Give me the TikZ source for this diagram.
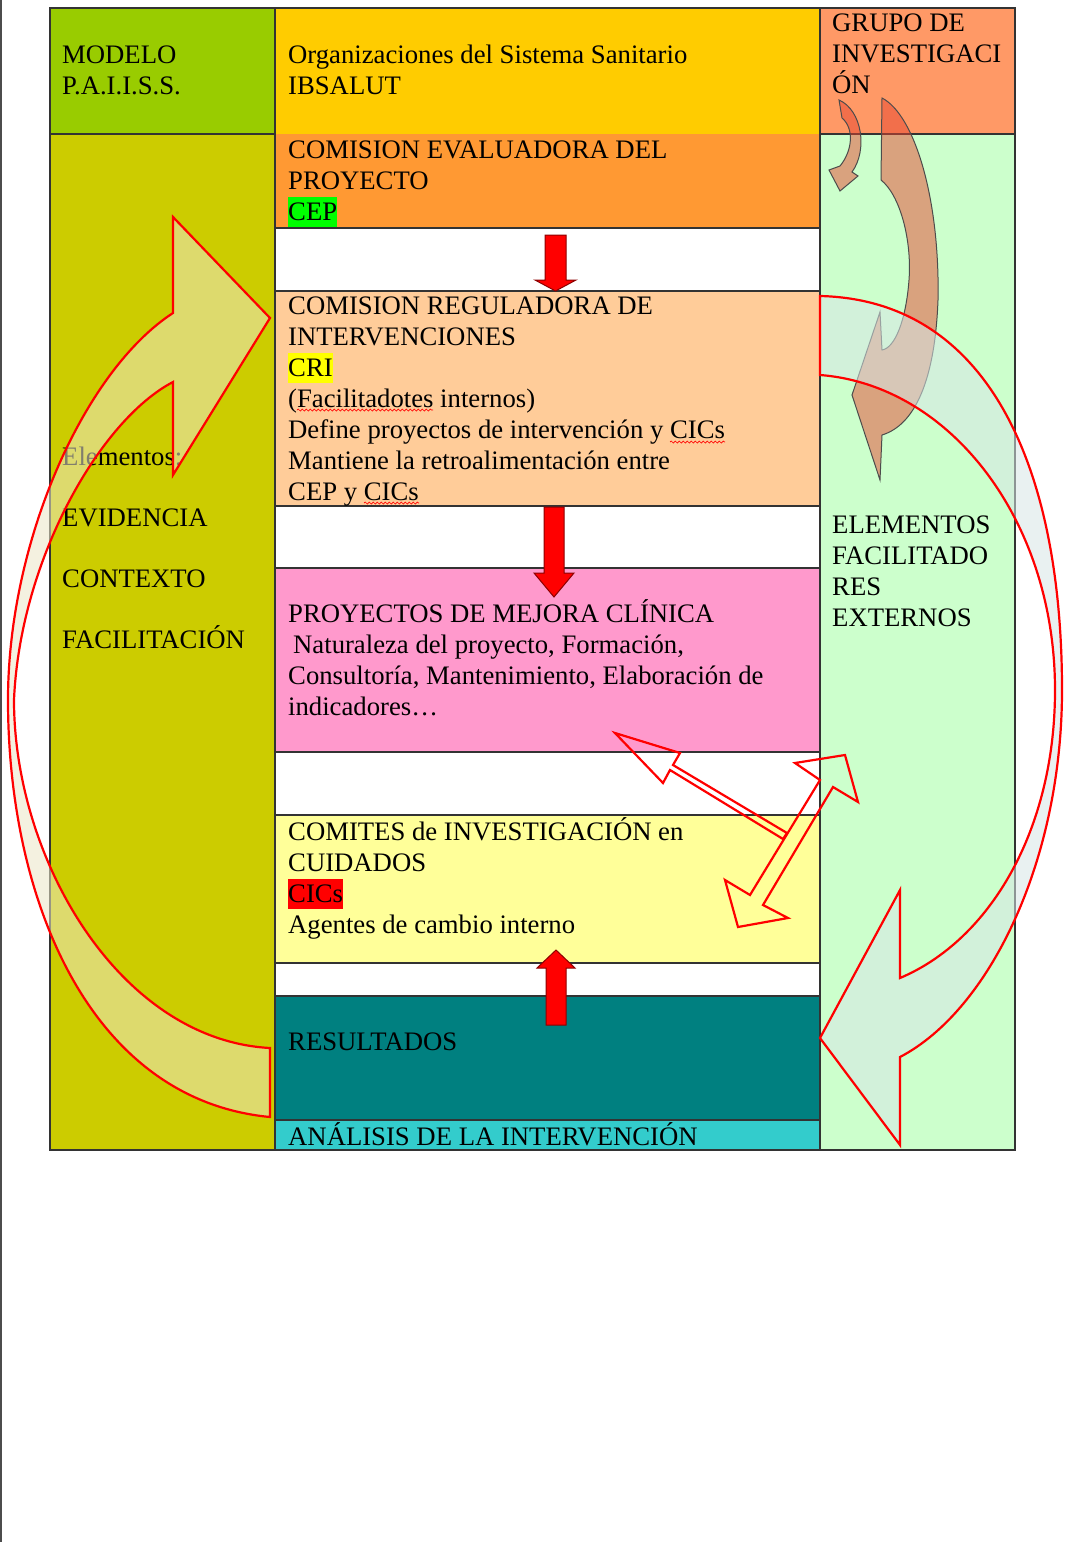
\documentclass[tikz,border=0pt]{standalone}
\usepackage{fontspec}
\setmainfont{Liberation Serif}
\usetikzlibrary{decorations.pathmorphing}

\definecolor{modelgreen}{HTML}{99CC00}
\definecolor{olivecol}{HTML}{CCCC00}
\definecolor{goldcol}{HTML}{FFCC00}
\definecolor{grupocol}{HTML}{FF9966}
\definecolor{cepcol}{HTML}{FF9933}
\definecolor{cricol}{HTML}{FFCC99}
\definecolor{pinkcol}{HTML}{FF99CC}
\definecolor{cicscol}{HTML}{FFFF99}
\definecolor{tealcol}{HTML}{008080}
\definecolor{turqcol}{HTML}{33CCCC}
\definecolor{extcol}{HTML}{CCFFCC}
\definecolor{hlgreen}{HTML}{00FF00}
\definecolor{hlyellow}{HTML}{FFFF00}
\definecolor{hlred}{HTML}{FF0000}
\definecolor{arcleft}{RGB}{235,230,200}
\definecolor{arcright}{RGB}{215,230,230}
\definecolor{salmonfill}{RGB}{230,70,50}

\newcommand{\cellfont}{\fontsize{26.7pt}{31pt}\selectfont}
\newcommand{\tstrut}{\rule{0pt}{25pt}}
\newcommand{\hilite}[2]{{\setlength{\fboxsep}{0pt}\colorbox{#1}{\rule[-7pt]{0pt}{30pt}#2}}}

\tikzset{
	cell/.style={draw=black!80, line width=1.4pt},
	txt/.style={anchor=north west, inner sep=0pt, align=left, font=\cellfont},
	solidarrow/.style={fill=red, draw=red!55!black, line width=1pt},
	openarrow/.style={draw=red, line width=2.2pt, line join=miter},
	bigarc/.style={draw=red, line width=2.2pt, fill opacity=0.55},
	salmonarrow/.style={draw=black!70, line width=1pt, fill=salmonfill, fill opacity=0.5},
	squiggle/.style={red, line width=0.7pt, decorate, decoration={snake, amplitude=1pt, segment length=4pt}}
}

\begin{document}
\begin{tikzpicture}[x=1pt, y=-1pt]
		\useasboundingbox (0,0) rectangle (1070,1542);
		\fill[white] (0,0) rectangle (1070,1542);
		\draw[black!70, line width=2pt] (1,0) -- (1,1542);
		% columns
		\fill[modelgreen] (50,8) rectangle (275,134);
		\fill[olivecol] (50,134) rectangle (275,1150);
		\fill[grupocol] (820,8) rectangle (1015,134);
		\fill[extcol] (820,134) rectangle (1015,1150);
		\foreach \ya/\yb/\col in {8/134/goldcol, 134/228/cepcol, 228/291/white, 291/506/cricol, 506/568/white, 568/752/pinkcol, 752/815/white, 815/963/cicscol, 963/996/white, 996/1120/tealcol, 1120/1150/turqcol} {
			\fill[\col] (275,\ya) rectangle (820,\yb);
		}
		\foreach \y in {228, 291, 506, 568, 752, 815, 963, 996, 1120} {
			\draw[cell] (275,\y) -- (820,\y);
		}
		\draw[cell] (50,134) -- (275,134) (820,134) -- (1015,134);
		\draw[cell] (50,8) rectangle (1015,1150);
		\draw[cell] (275,8) -- (275,1150) (820,8) -- (820,1150);

		% texts
		\node[txt] (modelo) at (62,38) {\tstrut MODELO\\P.A.I.I.S.S.};
		\node[txt] (org) at (288,38) {\tstrut Organizaciones del Sistema Sanitario\\IBSALUT};
		\node[txt] (grupo) at (832,6) {\tstrut GRUPO DE\\INVESTIGACI\\ÓN};
		\node[txt] (cep) at (288,133) {\tstrut COMISION EVALUADORA DEL\\PROYECTO\\\hilite{hlgreen}{CEP}};
		\node[txt] (cri) at (288,289) {\tstrut COMISION REGULADORA DE\\INTERVENCIONES\\\hilite{hlyellow}{CRI}\\(Facilitadotes internos)\\Define proyectos de intervención y CICs\\Mantiene la retroalimentación entre\\CEP y CICs};
		\node[txt] (elementos) at (62,440) {\tstrut Elementos:\\[30pt]EVIDENCIA\\[30pt]CONTEXTO\\[30pt]FACILITACIÓN};
		\node[txt] (mejora) at (288,597) {\tstrut PROYECTOS DE MEJORA CLÍNICA\\\hspace*{5pt}Naturaleza del proyecto, Formación,\\Consultoría, Mantenimiento, Elaboración de\\indicadores…};
		\node[txt] (externos) at (832,508) {\tstrut ELEMENTOS\\FACILITADO\\RES\\EXTERNOS};
		\node[txt] (comites) at (288,815) {\tstrut COMITES de INVESTIGACIÓN en\\CUIDADOS\\\hilite{hlred}{CICs}\\Agentes de cambio interno};
		\node[txt] (resultados) at (288,1025) {\tstrut RESULTADOS};
		\node[txt] (analisis) at (288,1120) {\tstrut ANÁLISIS DE LA INTERVENCIÓN};
		\draw[squiggle] (297,410) -- (433,410);
		\draw[squiggle] (670,442) -- (725,442);
		\draw[squiggle] (364,503) -- (419,503);

		% flow arrows
		\filldraw[solidarrow] (545,235) -- (566,235) -- (566,280) -- (576,280) -- (555.5,291) -- (535,280) -- (545,280) -- cycle;
		\filldraw[solidarrow] (544,507) -- (564,507) -- (564,573) -- (574,573) -- (554,597) -- (534,573) -- (544,573) -- cycle;
		\filldraw[solidarrow] (546,1025) -- (566,1025) -- (566,968) -- (575,968) -- (556,950) -- (537,968) -- (546,968) -- cycle;
		\draw[openarrow] (615,733) -- (680,753) -- (673,765) -- (787,833) -- (783,839) -- (670,770) -- (663,783) -- cycle;
		\draw[openarrow] (738,927) -- (788,918) -- (763,905) -- (833,787) -- (858,802) -- (845,755) -- (795,763) -- (820,780) -- (750,895) -- (725,880) -- cycle;

		% curved arrows
		\filldraw[salmonarrow] (839,100) .. controls (862,110) and (868,150) .. (852,172) -- (858,176) -- (840,191) -- (829,170) -- (840,166) .. controls (853,150) and (854,128) .. (842,118) -- cycle;
		\filldraw[salmonarrow] (882,98) -- (881,180) .. controls (900,195) and (912,240) .. (909,280) .. controls (906,320) and (895,348) .. (882,350) -- (880,312) -- (852,395) -- (880,480) -- (882,435) .. controls (915,425) and (935,380) .. (938,300) .. controls (940,200) and (915,115) .. (882,98) -- cycle;
		\filldraw[bigarc, fill=arcleft] (270,1117) .. controls (90,1100) and (8,900) .. (8,700) .. controls (8,540) and (85,370) .. (173,313) -- (173,217) -- (270,318) -- (173,475) -- (173,382) .. controls (100,420) and (20,560) .. (14,700) .. controls (14,860) and (120,1040) .. (270,1048) -- cycle;
		\filldraw[bigarc, fill=arcright] (820,296) .. controls (990,300) and (1062,470) .. (1062,690) .. controls (1062,860) and (990,1010) .. (900,1057) -- (900,1145) -- (820,1038) -- (900,890) -- (900,978) .. controls (990,940) and (1055,830) .. (1055,690) .. controls (1055,520) and (950,385) .. (820,375) -- cycle;
	\end{tikzpicture}
\end{document}
